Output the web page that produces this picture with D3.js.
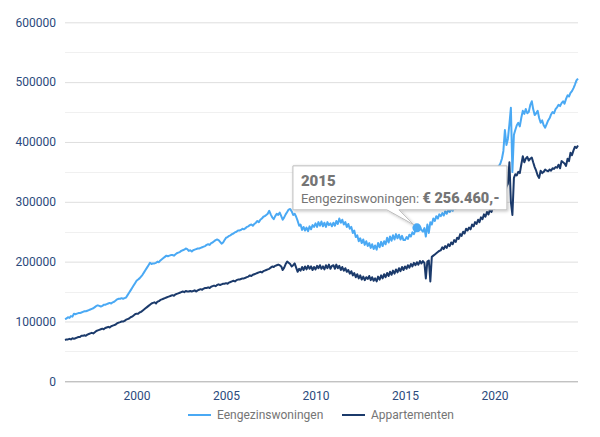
<!DOCTYPE html>
<html>
<head>
<meta charset="utf-8">
<script src="https://cdn.jsdelivr.net/npm/d3@7"></script>
<style>
  body { margin: 0; background: #fff; }
  svg { font-family: Roboto, "Noto Sans", sans-serif; }
</style>
</head>
<body>
<div class="chart"></div>
<script>
// monthly average prices (x 1000 euro), jan 1996 - sep 2024
var startYear = 1996;
var seriesNames = ["Eengezinswoningen", "Appartementen"];
var yTicks = [0, 100000, 200000, 300000, 400000, 500000, 600000];
var xTickYears = [2000, 2005, 2010, 2015, 2020];

var eengezins = [
  104,105,107,106,109,108,113,112,113,114,114,115, // 1996
  116,117,117,118,119,120,121,122,124,126,127,126, // 1997
  125,126,128,128,129,130,131,130,132,133,135,137, // 1998
  138,138,139,138,139,140,144,148,152,156,160,164, // 1999
  168,170,172,175,178,182,186,190,194,198,196,197, // 2000
  197,198,200,199,202,204,206,208,210,209,210,211, // 2001
  211,210,212,214,215,216,218,219,220,222,221,218, // 2002
  219,217,219,220,221,222,222,223,224,225,226,228, // 2003
  229,228,231,232,234,236,237,236,233,230,232,236, // 2004
  240,241,243,244,246,247,249,250,252,252,253,255, // 2005
  254,256,258,259,261,262,260,263,265,268,266,270, // 2006
  272,275,276,278,280,285,279,274,271,276,280,278, // 2007
  282,276,270,274,279,283,287,288,284,278,280,275, // 2008
  268,260,262,253,258,252,257,251,259,254,261,258, // 2009
  264,258,266,260,267,259,265,258,266,261,264,259, // 2010
  265,260,268,263,272,265,270,262,266,258,263,255, // 2011
  258,248,252,241,244,234,239,231,237,228,234,226, // 2012
  231,223,229,221,227,220,231,224,233,226,234,229, // 2013
  240,232,242,235,244,237,246,239,245,237,243,236, // 2014
  236,241,238,245,242,249,246,252,256.46,252,258,253, // 2015
  250,256,242,262,248,266,262,272,268,276,272,279, // 2016
  276,281,277,284,280,286,283,288,285,291,288,295, // 2017
  293,299,296,303,300,307,304,311,308,315,312,320, // 2018
  317,324,321,329,326,334,331,339,336,344,341,350, // 2019
  352,355,357,360,364,372,385,420,395,405,430,457, // 2020
  350,412,420,428,432,426,440,452,447,455,448,450, // 2021
  462,468,455,445,448,452,440,432,436,428,424,430, // 2022
  436,440,446,450,448,455,458,462,460,465,468,464, // 2023
  472,478,476,482,485,490,496,503,506              // 2024
];

var appartementen = [
  69,70,70,71,70,72,71,72,73,74,74,76, // 1996
  76,77,76,78,79,80,81,80,82,84,85,86, // 1997
  87,88,87,89,90,91,90,92,93,94,95,97, // 1998
  98,99,100,100,101,103,104,105,107,108,110,112, // 1999
  113,113,115,116,118,120,122,124,126,128,130,131, // 2000
  132,130,133,134,136,137,138,139,140,141,142,143, // 2001
  144,143,145,146,147,148,149,150,149,151,150,150, // 2002
  151,150,151,152,150,152,153,154,153,155,156,156, // 2003
  157,156,158,159,160,159,161,162,161,162,163,163, // 2004
  164,163,165,166,167,168,167,169,170,170,171,172, // 2005
  172,173,174,175,177,176,178,179,180,181,182,183, // 2006
  182,184,185,186,187,188,190,192,191,193,194,195, // 2007
  194,192,186,190,196,200,198,196,192,194,197,190, // 2008
  183,188,185,191,186,192,187,193,188,192,186,191, // 2009
  187,193,189,194,188,192,187,194,189,195,188,193, // 2010
  194,188,195,189,193,186,191,185,189,183,186,180, // 2011
  184,177,181,174,179,172,177,170,175,169,174,171, // 2012
  176,169,174,168,172,167,175,170,177,172,179,174, // 2013
  181,176,183,178,185,180,187,182,189,184,191,186, // 2014
  192,188,194,190,196,192,198,194,199,195,201,197, // 2015
  201,198,172,200,202,167,208,210,212,214,216,218, // 2016
  219,224,221,226,223,229,226,232,229,236,233,240, // 2017
  238,246,243,250,247,255,252,257,254,262,259,266, // 2018
  263,270,266,274,271,279,275,283,279,287,283,291, // 2019
  288,294,290,298,302,296,306,312,325,330,366,300, // 2020
  278,340,346,344,350,348,362,376,366,372,375,369, // 2021
  372,374,366,358,352,344,340,352,348,350,354,352, // 2022
  351,354,352,356,355,358,357,362,356,368,366,364, // 2023
  360,372,368,382,378,386,392,390,394              // 2024
];

// tooltip point (sep 2015)
var tipIndex = 12 * (2015 - startYear) + 8;
var tipTitle = "2015";
var tipLabel = "Eengezinswoningen: ";
var tipValue = "€ 256.460,-";

//Width and height
var w = 600;
var h = 437;
var lightBlue = "#4aa9f4";
var darkBlue = "#1b3a6b";

var dates = eengezins.map(function(d, i) {
  return new Date(startYear, i, 1);
});

var svg = d3.select(".chart")
  .append("svg")
  .attr("width", w)
  .attr("height", h);

var x = d3.scaleTime()
  .domain([dates[0], dates[dates.length - 1]])
  .range([65, 578]);

var y = d3.scaleLinear()
  .domain([0, 600000])
  .range([381.3, 22.3]);

// minor gridlines
svg.selectAll("line.minor")
  .data(d3.range(50000, 600000, 100000))
  .enter()
  .append("line")
  .attr("x1", 65).attr("x2", 578)
  .attr("y1", function(d) { return Math.round(y(d)) + 0.5; })
  .attr("y2", function(d) { return Math.round(y(d)) + 0.5; })
  .attr("stroke", "#f0f0f0");

// y axis
var yAxis = d3.axisLeft(y)
  .tickValues(yTicks)
  .tickSize(-(578 - 65))
  .tickPadding(9)
  .tickFormat(d3.format("d"));

var yg = svg.append("g")
  .attr("transform", "translate(65,0)")
  .call(yAxis);
yg.select(".domain").remove();
yg.selectAll(".tick line")
  .attr("stroke", function(d) { return d === 0 ? "#a8a8a8" : "#dedede"; });
yg.selectAll(".tick text")
  .attr("fill", "#2b4a7c")
  .attr("font-size", 12)
  .attr("font-family", "Roboto");

// x axis
var xAxis = d3.axisBottom(x)
  .tickValues(xTickYears.map(function(yr) { return new Date(yr, 0, 1); }))
  .tickSize(0)
  .tickPadding(10)
  .tickFormat(d3.timeFormat("%Y"));

var xg = svg.append("g")
  .attr("transform", "translate(0,381.3)")
  .call(xAxis);
xg.select(".domain").remove();
xg.selectAll(".tick text")
  .attr("fill", "#2b4a7c")
  .attr("font-size", 12)
  .attr("font-family", "Roboto");

// lines
var line = d3.line()
  .x(function(d, i) { return x(dates[i]); })
  .y(function(d) { return y(d * 1000); });

svg.append("path")
  .datum(eengezins)
  .attr("fill", "none")
  .attr("stroke", lightBlue)
  .attr("stroke-width", 2)
  .attr("stroke-linejoin", "round")
  .attr("d", line);

svg.append("path")
  .datum(appartementen)
  .attr("fill", "none")
  .attr("stroke", darkBlue)
  .attr("stroke-width", 2)
  .attr("stroke-linejoin", "round")
  .attr("d", line);

// legend
var legend = svg.selectAll("g.legend")
  .data(seriesNames)
  .enter()
  .append("g")
  .attr("transform", function(d, i) {
    return "translate(" + (i === 0 ? 188 : 342) + ",415)";
  });

legend.append("line")
  .attr("x1", 0).attr("x2", 23)
  .attr("stroke", function(d, i) { return i === 0 ? lightBlue : darkBlue; })
  .attr("stroke-width", 2);

legend.append("text")
  .attr("x", 29)
  .attr("y", 4)
  .attr("fill", "#757575")
  .attr("font-size", 12)
  .text(function(d) { return d; });

// tooltip
var mx = x(dates[tipIndex]);
var my = y(eengezins[tipIndex] * 1000);

var defs = svg.append("defs");
var filter = defs.append("filter")
  .attr("id", "shadow")
  .attr("x", "-10%").attr("y", "-20%")
  .attr("width", "130%").attr("height", "160%");
filter.append("feDropShadow")
  .attr("dx", 1).attr("dy", 1)
  .attr("stdDeviation", 1.5)
  .attr("flood-color", "#000")
  .attr("flood-opacity", 0.25);

var tip = svg.append("g");
var bx = mx - 124, by = my - 62, bw = 214, bh = 44;

tip.append("path")
  .attr("d", "M" + bx + "," + by +
    "h" + bw + "v" + bh +
    "H" + (mx - 18) +
    "L" + (mx - 3) + "," + (my - 3) +
    "L" + (mx - 30) + "," + (by + bh) +
    "H" + bx + "Z")
  .attr("fill", "#fff")
  .attr("stroke", "#bdbdbd")
  .attr("stroke-width", 1)
  .attr("filter", "url(#shadow)");

tip.append("text")
  .attr("x", bx + 8)
  .attr("y", by + 20)
  .attr("fill", "#757575")
  .attr("font-size", 15)
  .attr("font-weight", 900)
  .text(tipTitle);

var body = tip.append("text")
  .attr("x", bx + 8)
  .attr("y", by + 37)
  .attr("fill", "#757575")
  .attr("font-size", 13);
body.append("tspan").text(tipLabel);
body.append("tspan").attr("font-weight", 900).attr("font-size", 14.5).text(tipValue);

svg.append("circle")
  .attr("cx", mx)
  .attr("cy", my)
  .attr("r", 4.5)
  .attr("fill", lightBlue);
</script>
</body>
</html>
